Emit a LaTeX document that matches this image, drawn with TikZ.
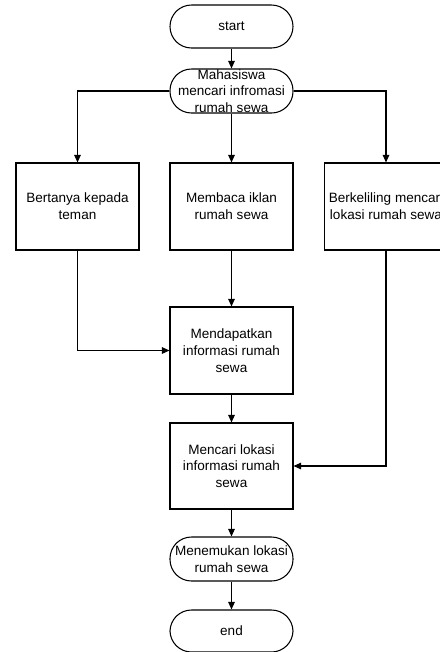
\documentclass[tikz,border=0pt]{standalone}
\usepackage{fontspec}
\setmainfont{Liberation Sans}
\usepackage{tikz}
\usetikzlibrary{arrows.meta,positioning}
\tikzset{
  term/.style={draw,rounded corners=0.43cm,align=center,font=\fontsize{7.7}{9.5}\selectfont,minimum width=2.46cm,minimum height=0.86cm,inner sep=0pt,line width=0.6pt},
  box/.style={draw,align=center,font=\fontsize{7.7}{9.5}\selectfont,minimum width=2.46cm,minimum height=1.74cm,inner sep=1pt,line width=0.6pt},
  arr/.style={-{Triangle[length=1.5mm,width=1.3mm]},line width=0.6pt}
}
\begin{document}
\begin{tikzpicture}
\useasboundingbox (0,0) rectangle (8.8,-13.04);
\clip (0,0) rectangle (8.8,-13.04);
\node[term] (start) at (4.63,-0.53) {start};
\node[term,minimum height=0.88cm] (cari) at (4.63,-1.82) {Mahasiswa\\ mencari infromasi\\ rumah sewa};
\node[box] (tanya) at (1.55,-4.13) {Bertanya kepada\\ teman};
\node[box] (iklan) at (4.63,-4.13) {Membaca  iklan\\ rumah sewa};
\node[box] (keliling) at (7.72,-4.13) {Berkeliling mencari\\ lokasi rumah sewa};
\node[box] (dapat) at (4.63,-7.01) {Mendapatkan\\ informasi rumah\\ sewa};
\node[box,minimum height=1.72cm] (lokasi) at (4.63,-9.32) {Mencari lokasi\\ informasi rumah\\ sewa};
\node[term,minimum height=0.88cm] (temu) at (4.63,-11.18) {Menemukan lokasi\\ rumah sewa};
\node[term,minimum height=0.84cm] (stop) at (4.63,-12.62) {end};
% alur
\draw[arr] (start) -- (cari);
\draw[arr] (cari.west) -| (tanya.north);
\draw[arr] (cari) -- (iklan);
\draw[arr] (cari.east) -| (keliling.north);
\draw[arr] (iklan) -- (dapat);
\draw[arr] (tanya.south) |- (dapat.west);
\draw[arr] (dapat) -- (lokasi);
\draw[arr] (keliling.south) |- (lokasi.east);
\draw[arr] (lokasi) -- (temu);
\draw[arr] (temu) -- (stop);
\end{tikzpicture}
\end{document}
